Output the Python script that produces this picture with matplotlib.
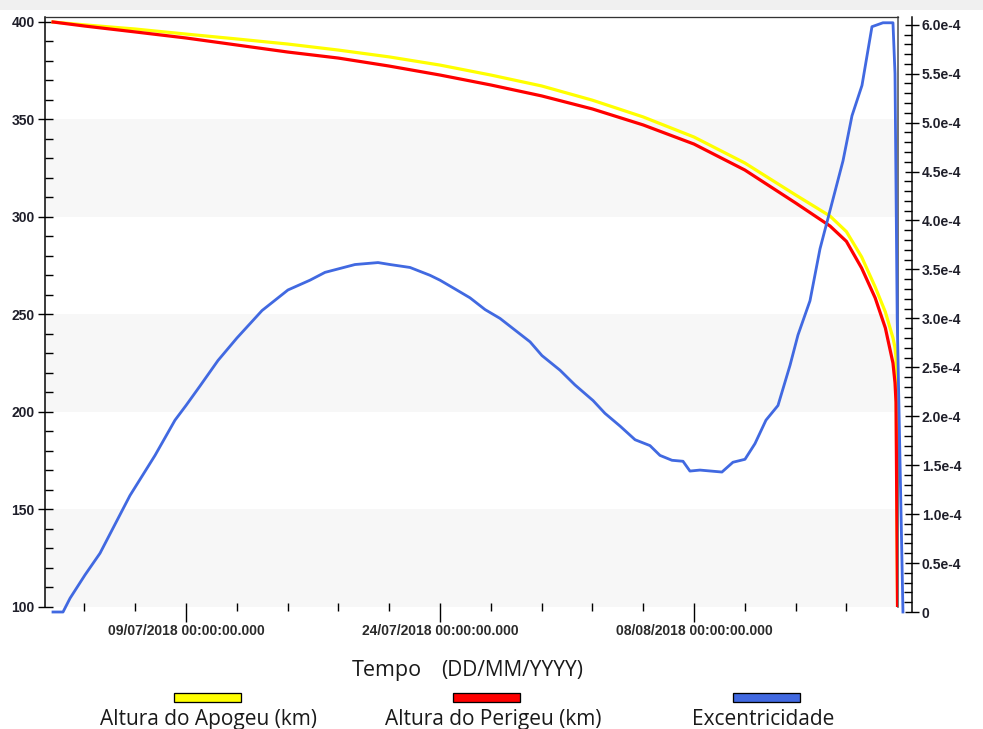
import numpy as np
import matplotlib
matplotlib.use("Agg")
import matplotlib.pyplot as plt
import matplotlib.dates as mdates
from matplotlib.patches import Rectangle
from matplotlib.ticker import FixedLocator, FuncFormatter, MultipleLocator

# ---------------- data ----------------
base_date = np.datetime64("2018-07-01T00:00")

alt_days = [0.15, 2.04, 5.0, 8.0, 11.0, 14.0, 17.0, 20.0, 23.0, 26.0, 29.0, 32.0,
            35.0, 38.0, 41.0, 44.0, 46.03, 47.0, 47.9, 48.7, 49.3, 49.75, 49.87,
            49.93, 50.02]
apogeu_km = [400.0, 398.5, 396.4, 393.8, 391.3, 388.7, 385.6, 382.1, 377.9, 372.8,
             367.2, 359.9, 351.3, 341.0, 327.7, 311.3, 300.5, 292.5, 279.5, 264.1,
             251.3, 238.0, 233.0, 228.0, 100.0]
perigeu_km = [400.0, 397.9, 394.9, 391.8, 388.2, 384.6, 381.5, 377.4, 372.8, 367.7,
              362.1, 355.4, 347.2, 337.4, 324.1, 307.2, 295.4, 287.5, 273.8, 258.5,
              243.1, 225.1, 215.0, 205.0, 100.0]

ecc_days = [0.146, 0.736, 1.15, 2.04, 2.92, 4.69, 6.17, 7.35, 8.0, 8.83, 9.89, 11.01,
            12.49, 14.02, 15.32, 16.21, 17.98, 19.34, 20.05, 21.23, 22.41, 23.0,
            23.89, 24.77, 25.66, 26.54, 27.43, 28.32, 29.02, 30.09, 30.97, 32.04,
            32.74, 33.63, 34.52, 35.40, 35.99, 36.70, 37.35, 37.76, 38.35, 39.65,
            40.30, 41.01, 41.60, 42.25, 42.96, 43.67, 44.14, 44.85, 45.44, 46.03,
            46.80, 47.33, 47.92, 48.51, 49.16, 49.75, 49.87, 50.0, 50.34]
ecc_e4 = [0.0, 0.0, 0.14, 0.38, 0.60, 1.19, 1.60, 1.96, 2.11, 2.31, 2.57, 2.80,
          3.08, 3.29, 3.39, 3.47, 3.55, 3.57, 3.55, 3.52, 3.44, 3.39,
          3.30, 3.21, 3.09, 3.00, 2.88, 2.76, 2.62, 2.47, 2.32, 2.16,
          2.03, 1.90, 1.76, 1.70, 1.60, 1.55, 1.54, 1.44, 1.45, 1.43,
          1.53, 1.56, 1.72, 1.96, 2.11, 2.52, 2.83, 3.18, 3.71, 4.10,
          4.61, 5.07, 5.38, 5.98, 6.02, 6.02, 5.5, 3.0, 0.0]

series_names = ["Altura do Apogeu (km)", "Altura do Perigeu (km)", "Excentricidade"]
series_colors = ["#ffff00", "#ff0000", "#4169e1"]

band_ranges = [(300, 350), (200, 250), (100, 150)]
major_tick_dates = ["2018-07-09", "2018-07-24", "2018-08-08"]
minor_tick_start, minor_tick_end, minor_step_days = "2018-07-03", "2018-08-19", 3
x_limits = ["2018-06-30T16:09", "2018-08-20T01:08"]
left_ylim = (100, 402.56)
right_ylim = (0, 6.079e-4)


def to_dates(days):
    return base_date + (np.array(days) * 24 * 60).round().astype("timedelta64[m]")


# ---------------- figure ----------------
W, H, DPI = 983, 729, 100
fig = plt.figure(figsize=(W / DPI, H / DPI), dpi=DPI)
pt = lambda p: p * 72.0 / DPI  # pixels -> points

# light gray header band
fig.add_artist(Rectangle((0, 1 - 10 / H), 1, 10 / H, transform=fig.transFigure,
                         facecolor="#f0f0f0", edgecolor="none", zorder=0))

ax = fig.add_axes([45 / W, (H - 607) / H, 853 / W, 590 / H])
ax.set_xlim(np.datetime64(x_limits[0]), np.datetime64(x_limits[1]))
ax.set_ylim(*left_ylim)

for lo, hi in band_ranges:
    ax.axhspan(lo, hi, color="#f7f7f7", lw=0, zorder=0)

ax.plot(to_dates(alt_days), apogeu_km, color=series_colors[0], lw=pt(3.2),
        solid_joinstyle="round", zorder=3)
ax.plot(to_dates(alt_days), perigeu_km, color=series_colors[1], lw=pt(3.2),
        solid_joinstyle="round", zorder=4)

# spines
ax.spines["bottom"].set_visible(False)
ax.spines["left"].set_color("black")
ax.spines["left"].set_linewidth(pt(1.5))
ax.spines["top"].set_color("#333333")
ax.spines["top"].set_linewidth(pt(1.3))
ax.spines["right"].set_color("#555555")
ax.spines["right"].set_linewidth(pt(1.6))
ax.spines["bottom"].set_position(("outward", -pt(4)))

TICK_FS = 10

# y ticks (left)
ax.yaxis.set_major_locator(MultipleLocator(50))
ax.yaxis.set_minor_locator(MultipleLocator(10))
ax.tick_params(axis="y", which="major", direction="inout", length=pt(15),
               width=pt(1.4), pad=pt(3), labelsize=TICK_FS, labelcolor="#1f1f2a")
ax.tick_params(axis="y", which="minor", direction="in", length=pt(8), width=pt(1.4))
for lab in ax.get_yticklabels():
    lab.set_fontfamily("Liberation Sans")
    lab.set_fontweight("bold")

# x ticks
major_locs = mdates.date2num(np.array(major_tick_dates, dtype="datetime64[D]"))
minor_locs = mdates.date2num(np.arange(np.datetime64(minor_tick_start),
                                       np.datetime64(minor_tick_end),
                                       np.timedelta64(minor_step_days, "D")))
ax.xaxis.set_major_locator(FixedLocator(major_locs))
ax.xaxis.set_minor_locator(FixedLocator(minor_locs))
ax.xaxis.set_major_formatter(mdates.DateFormatter("%d/%m/%Y %H:%M:%S.000"))
ax.tick_params(axis="x", which="major", direction="out", length=pt(19),
               width=pt(1.4), pad=pt(2), labelsize=TICK_FS, labelcolor="#2a2a2a")
ax.tick_params(axis="x", which="minor", direction="out", length=pt(8), width=pt(1.4))
for lab in ax.get_xticklabels():
    lab.set_fontfamily("Liberation Sans")
    lab.set_fontweight("bold")

# right axis (eccentricity)
ax2 = fig.add_axes([45 / W, (H - 612) / H, 853 / W, 595 / H])
ax2.set_xlim(ax.get_xlim())
ax2.set_ylim(*right_ylim)
ax2.patch.set_visible(False)
for s in ["left", "top", "bottom"]:
    ax2.spines[s].set_visible(False)
ax2.spines["right"].set_position(("outward", pt(14)))
ax2.spines["right"].set_color("black")
ax2.spines["right"].set_linewidth(pt(1.5))
ax2.xaxis.set_visible(False)
ax2.yaxis.tick_right()
ax2.plot(to_dates(ecc_days), np.array(ecc_e4) * 1e-4, color=series_colors[2],
         lw=pt(2.8), clip_on=False, zorder=5, solid_joinstyle="round")
ax2.yaxis.set_major_locator(MultipleLocator(0.5e-4))
ax2.yaxis.set_minor_locator(MultipleLocator(0.1e-4))
ax2.yaxis.set_major_formatter(FuncFormatter(
    lambda v, p: "0" if abs(v) < 1e-12 else f"{v * 1e4:.1f}e-4"))
ax2.tick_params(axis="y", which="major", direction="inout", length=pt(14),
                width=pt(1.4), pad=pt(3), labelsize=TICK_FS, labelcolor="#1f1f2a")
ax2.tick_params(axis="y", which="minor", direction="in", length=pt(8), width=pt(1.4))
for lab in ax2.get_yticklabels():
    lab.set_fontfamily("Liberation Sans")
    lab.set_fontweight("bold")

# axis title
fig.text(352 / W, 1 - 676 / H, "Tempo", fontsize=15.5, family="Open Sans",
         color="#1a1a1a", ha="left", va="baseline")
fig.text(441 / W, 1 - 676 / H, "(DD/MM/YYYY)", fontsize=15, family="Open Sans",
         color="#1a1a1a", ha="left", va="baseline")

# legend
rect_x = [174, 453, 733]
label_cx = [209, 493, 763]
for name, col, rx, cx in zip(series_names, series_colors, rect_x, label_cx):
    fig.add_artist(Rectangle((rx / W, 1 - 702 / H), 67 / W, 9 / H,
                             transform=fig.transFigure, facecolor=col,
                             edgecolor="black", lw=pt(1.3)))
    fig.text(cx / W, 1 - 725 / H, name, fontsize=15, family="Open Sans",
             color="#1a1a1a", ha="center", va="baseline")

fig.savefig("out.png", dpi=DPI)
